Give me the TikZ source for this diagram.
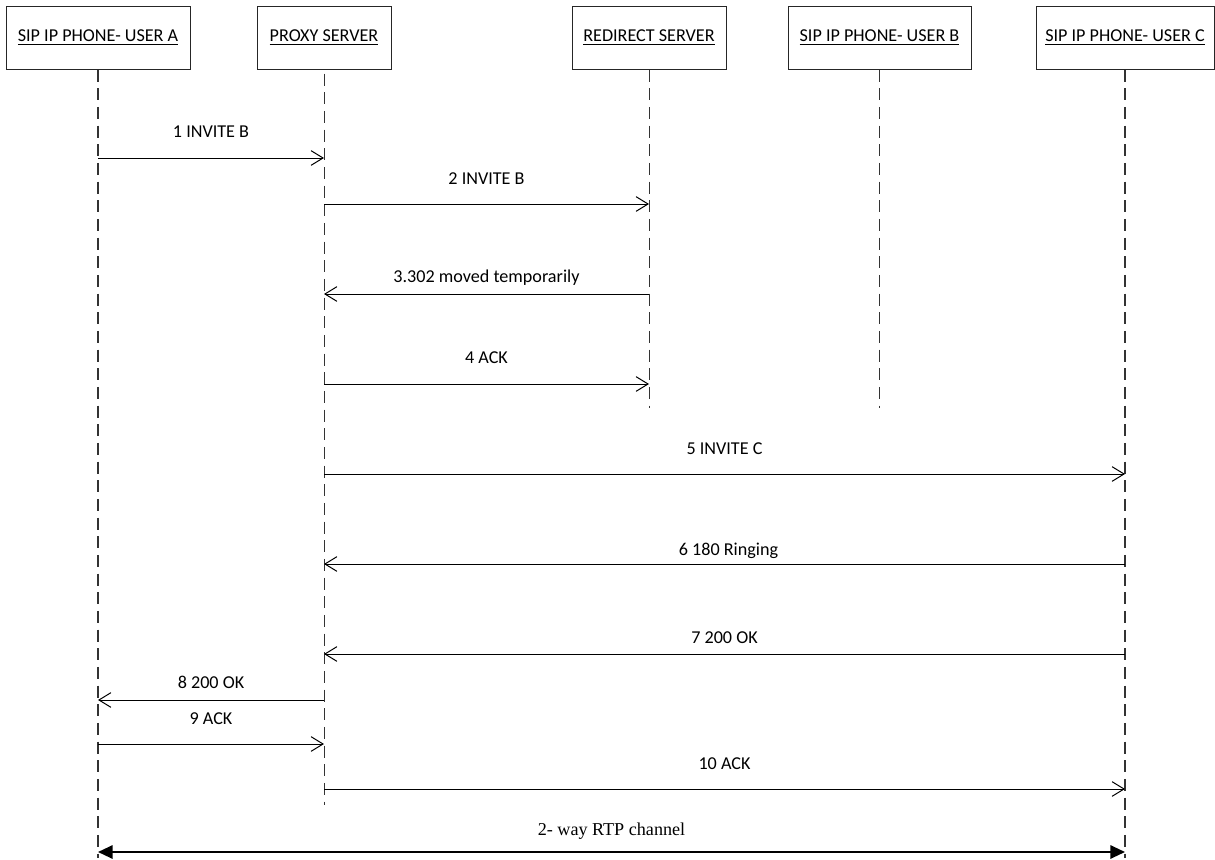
\documentclass[tikz,border=0pt]{standalone}
\usepackage{fontspec}
\setmainfont{Carlito}
\newfontfamily\rtpfont{Liberation Serif}
\usetikzlibrary{arrows.meta}
\begin{document}
\begin{tikzpicture}[x=0.75pt,y=-0.75pt,
  font=\fontsize{13.6}{16}\selectfont,
  actor/.style={draw=black!85,line width=0.75pt,minimum height=47.25pt,inner sep=0pt},
  life/.style={draw=black!80,line width=0.75pt,dash pattern=on 9pt off 5pt},
  lifethick/.style={life,line width=1.1pt},
  msg/.style={draw=black,line width=0.75pt,-{Straight Barb[length=9pt,width=11pt,line width=0.75pt]}},
  rtp/.style={draw=black,line width=1.5pt,{Triangle[length=11pt,width=10pt]}-{Triangle[length=11pt,width=10pt]}},
  lbl/.style={anchor=base,inner sep=0pt}]
\useasboundingbox (0,0) rectangle (1215,860);
% actors
\node[actor,minimum width=138pt] (A) at (98,37.5) {\underline{SIP IP PHONE- USER A}};
\node[actor,minimum width=100.5pt] (P) at (324,37.5) {\underline{PROXY SERVER}};
\node[actor,minimum width=115.5pt] (R) at (649,37.5) {\underline{REDIRECT SERVER}};
\node[actor,minimum width=137.25pt] (B) at (879.5,37.5) {\underline{SIP IP PHONE- USER B}};
\node[actor,minimum width=133.5pt] (C) at (1125,37.5) {\underline{SIP IP PHONE- USER C}};
% lifeline ends
\coordinate (Aend) at (98,858);
\coordinate (Pend) at (324,805);
\coordinate (Rend) at (649,408);
\coordinate (Bend) at (879.5,408);
\coordinate (Cend) at (1125,858);
\draw[lifethick] (A.south) -- (Aend);
\draw[life] ([yshift=-3pt]P.south) -- (Pend);
\draw[life] (R.south) -- (Rend);
\draw[life] (B.south) -- (Bend);
\draw[lifethick] (C.south) -- (Cend);
% message rows
\coordinate (r1) at (0,158);
\coordinate (r2) at (0,204);
\coordinate (r3) at (0,294);
\coordinate (r4) at (0,384);
\coordinate (r5) at (0,474);
\coordinate (r6) at (0,564);
\coordinate (r7) at (0,654);
\coordinate (r8) at (0,700);
\coordinate (r9) at (0,744);
\coordinate (r10) at (0,789);
\coordinate (r11) at (0,852);
\draw[msg] (A |- r1) -- node[lbl,yshift=15.4pt] {1 INVITE B} (P |- r1);
\draw[msg] (P |- r2) -- node[lbl,yshift=14.6pt] {2 INVITE B} (R |- r2);
\draw[msg] (R |- r3) -- node[lbl,yshift=8.6pt] {3.302 moved temporarily} (P |- r3);
\draw[msg] (P |- r4) -- node[lbl,yshift=15.4pt] {4 ACK} (R |- r4);
\draw[msg] (P |- r5) -- node[lbl,yshift=14.6pt] {5 INVITE C} (C |- r5);
\draw[msg] (C |- r6) -- node[lbl,yshift=6.4pt,xshift=3pt] {6 180 Ringing} (P |- r6);
\draw[msg] (C |- r7) -- node[lbl,yshift=7.9pt] {7 200 OK} (P |- r7);
\draw[msg] (P |- r8) -- node[lbl,yshift=8.6pt] {8 200 OK} (A |- r8);
\draw[msg] (A |- r9) -- node[lbl,yshift=14.6pt] {9 ACK} (P |- r9);
\draw[msg] (P |- r10) -- node[lbl,yshift=14.6pt] {10 ACK} (C |- r10);
\draw[rtp] (A |- r11) -- node[lbl,yshift=12.75pt,font=\rtpfont\fontsize{13.6}{16}\selectfont] {2- way RTP channel} (C |- r11);
\end{tikzpicture}
\end{document}
